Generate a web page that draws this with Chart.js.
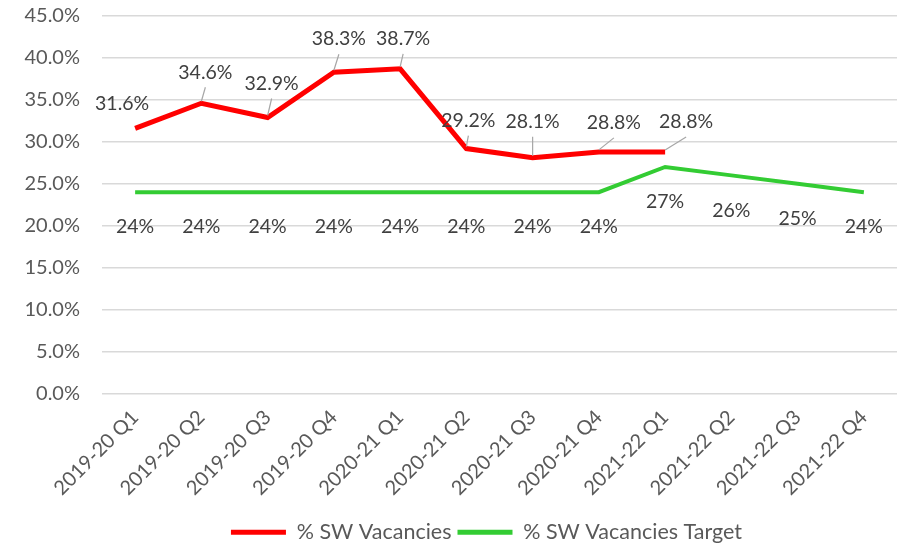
<!DOCTYPE html>
<html>
<head>
<meta charset="utf-8">
<script src="https://cdn.jsdelivr.net/npm/chart.js@4"></script>
<style>
  html, body { margin: 0; padding: 0; background: #fff; }
  #wrap { width: 901px; height: 548px; }
</style>
</head>
<body>
<div id="wrap"><canvas id="myChart" width="901" height="548"></canvas></div>
<script>
const quarters = ['2019-20 Q1', '2019-20 Q2', '2019-20 Q3', '2019-20 Q4',
                  '2020-21 Q1', '2020-21 Q2', '2020-21 Q3', '2020-21 Q4',
                  '2021-22 Q1', '2021-22 Q2', '2021-22 Q3', '2021-22 Q4'];
const vacancies = [31.6, 34.6, 32.9, 38.3, 38.7, 29.2, 28.1, 28.8, 28.8, null, null, null];
const target = [24, 24, 24, 24, 24, 24, 24, 24, 27, 26, 25, 24];
const yTicks = [0, 5, 10, 15, 20, 25, 30, 35, 40, 45];

// label placement (offset from point, px) and whether a leader line is drawn
const redOffsets = [[-13, -25], [4, -31], [4, -34], [5, -33], [3, -30], [2, -28], [0, -36], [15, -29], [21, -30]];
const redLeaders = [false, true, true, true, true, true, true, true, true];

const FONT = 'Lato, "Liberation Sans", sans-serif';
const FS = 20;

const labelPlugin = {
    id: 'pointLabels',
    afterDatasetsDraw(chart) {
        const ctx = chart.ctx;
        ctx.save();
        ctx.font = '19.5px ' + FONT;
        ctx.textAlign = 'center';
        ctx.textBaseline = 'middle';
        // red series
        chart.getDatasetMeta(0).data.forEach((pt, i) => {
            const v = vacancies[i];
            if (v === null || v === undefined) return;
            const [dx, dy] = redOffsets[i];
            const lx = pt.x + dx, ly = pt.y + dy;
            if (redLeaders[i]) {
                ctx.strokeStyle = '#A6A6A6';
                ctx.lineWidth = 1.2;
                ctx.beginPath();
                ctx.moveTo(pt.x, pt.y - 2);
                ctx.lineTo(lx, ly + 15);
                ctx.stroke();
            }
            ctx.fillStyle = '#404040';
            ctx.fillText(v.toFixed(1) + '%', lx, ly);
        });
        // green series
        chart.getDatasetMeta(1).data.forEach((pt, i) => {
            ctx.fillStyle = '#404040';
            ctx.fillText(target[i] + '%', pt.x, pt.y + 35);
        });
        ctx.restore();
    }
};

// nudge the legend to where it sits in the original
const legendShift = {
    id: 'legendShift',
    afterLayout(chart) {
        const lg = chart.legend;
        lg.left += 38; lg.right += 38;
        lg.top += 5; lg.bottom += 5;
    }
};

const ctx = document.getElementById('myChart').getContext('2d');
const myChart = new Chart(ctx, {
    type: 'line',
    data: {
        labels: quarters,
        datasets: [{
            label: '% SW Vacancies',
            data: vacancies,
            borderColor: '#FF0000',
            backgroundColor: '#FF0000',
            borderWidth: 5,
            pointRadius: 0,
            tension: 0,
            spanGaps: false
        }, {
            label: '% SW Vacancies Target',
            data: target,
            borderColor: '#33CC33',
            backgroundColor: '#33CC33',
            borderWidth: 4,
            pointRadius: 0,
            tension: 0
        }]
    },
    options: {
        responsive: false,
        animation: false,
        layout: { autoPadding: false, padding: { top: 16, right: 4, left: 0, bottom: 0 } },
        plugins: {
            tooltip: { enabled: false },
            legend: {
                position: 'bottom',
                labels: {
                    font: { size: 21.5, family: FONT },
                    color: '#595959',
                    boxWidth: 55,
                    boxHeight: 5,
                    padding: 6,
                    generateLabels(chart) {
                        return Chart.defaults.plugins.legend.labels.generateLabels(chart)
                            .map(l => Object.assign(l, { lineWidth: 0 }));
                    }
                }
            }
        },
        scales: {
            x: {
                offset: true,
                grid: { display: false },
                border: { display: false },
                afterFit(axis) { axis.height = 117; },
                ticks: {
                    minRotation: 45,
                    maxRotation: 45,
                    color: '#595959',
                    font: { size: FS, family: FONT },
                    padding: 4
                }
            },
            y: {
                min: 0,
                max: 45,
                afterBuildTicks(axis) { axis.ticks = yTicks.map(v => ({ value: v })); },
                afterFit(axis) { axis.width = 102; },
                grid: { color: '#D9D9D9', lineWidth: 1.5, drawTicks: true, tickLength: 22, tickColor: 'rgba(0,0,0,0)' },
                border: { display: false },
                ticks: {
                    color: '#595959',
                    font: { size: FS, family: FONT },
                    padding: 0,
                    callback: v => v.toFixed(1) + '%'
                }
            }
        }
    },
    plugins: [labelPlugin, legendShift]
});
</script>
</body>
</html>
